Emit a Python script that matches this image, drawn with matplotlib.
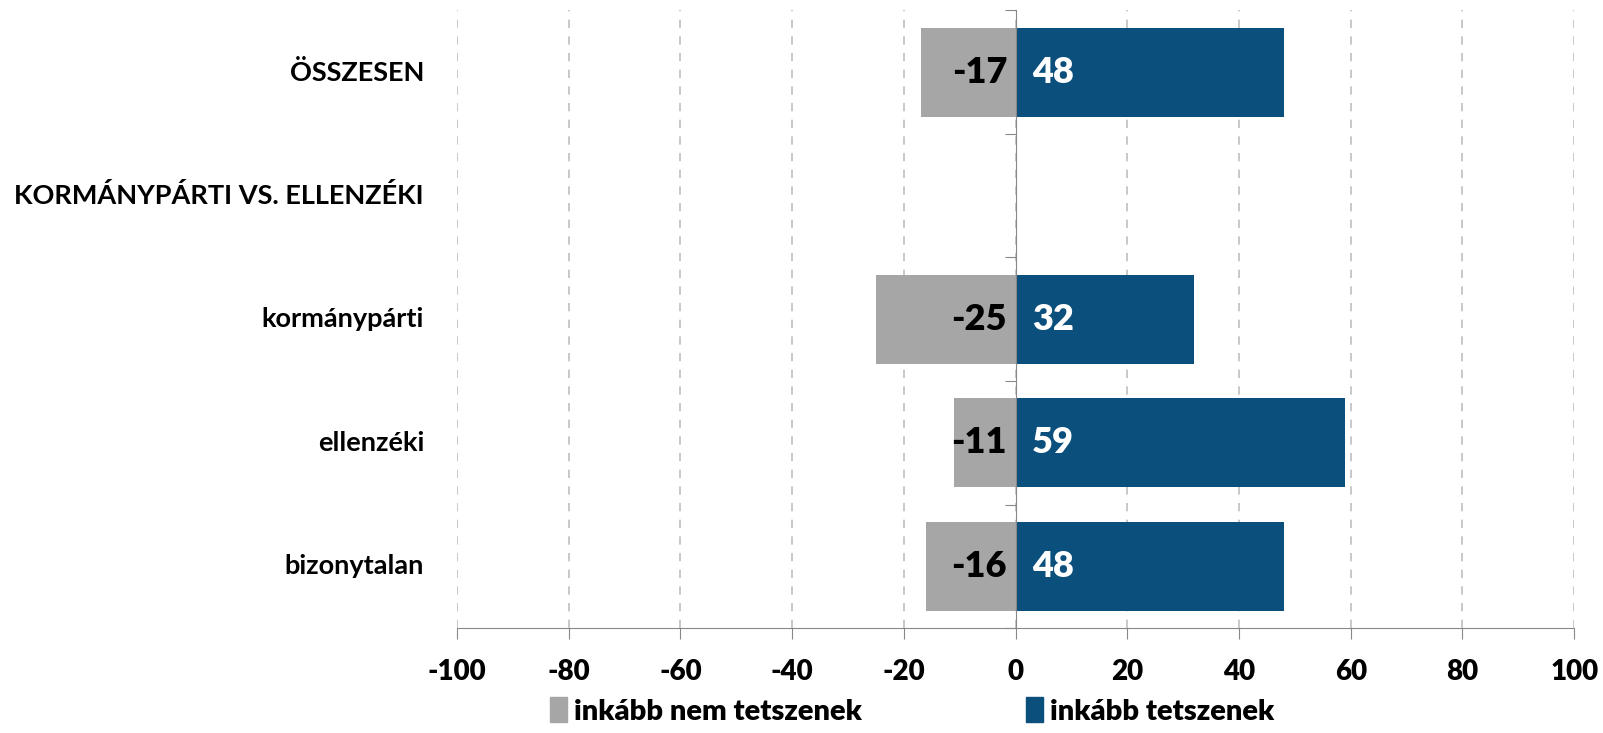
import numpy as np
import matplotlib.pyplot as plt
import matplotlib.transforms as mtransforms
from matplotlib.patches import Patch

plt.rcParams['font.family'] = ['Lato', 'DejaVu Sans']
plt.rcParams['font.weight'] = 'bold'

categories = ['ÖSSZESEN', 'KORMÁNYPÁRTI VS. ELLENZÉKI', 'kormánypárti', 'ellenzéki', 'bizonytalan']
nem_tetszenek = [-17, np.nan, -25, -11, -16]
tetszenek = [48, np.nan, 32, 59, 48]
series_names = ['inkább nem tetszenek', 'inkább tetszenek']
xticks = list(range(-100, 101, 20))

grey = '#A6A6A6'
blue = '#0B4F7C'
wt = 'heavy'

fig = plt.figure(figsize=(16.03, 7.33), dpi=100)
ax = fig.add_axes([0.285, 0.143, 0.697, 0.843])

y = np.arange(len(categories))
ax.barh(y, nem_tetszenek, height=0.72, color=grey, zorder=2)
ax.barh(y, tetszenek, height=0.72, color=blue, zorder=2)

for yi, v in zip(y, nem_tetszenek):
    if not np.isnan(v):
        ax.text(-1.5, yi, f'{v:d}', ha='right', va='center', fontsize=26,
                fontweight=wt, color='black', zorder=3)
for yi, v in zip(y, tetszenek):
    if not np.isnan(v):
        ax.text(3, yi, f'{v:d}', ha='left', va='center', fontsize=26,
                fontweight=wt, color='white', zorder=3)

ax.set_xlim(-100, 100)
ax.set_ylim(len(categories) - 0.5, -0.5)
ax.set_xticks(xticks)
ax.set_xticklabels([str(t) for t in xticks], fontsize=20, fontweight=wt)
ax.tick_params(axis='x', direction='out', length=8, color='#888888', pad=14)
ax.xaxis.grid(True, linestyle=(0, (5, 5)), color='#BFBFBF', linewidth=1.2, zorder=0)

# y axis at zero with ticks between categories
ax.spines['left'].set_position(('data', 0))
ax.spines['left'].set_color('#888888')
ax.spines['left'].set_zorder(4)
ax.set_yticks(np.arange(-0.5, len(categories), 1.0))
ax.set_yticklabels([])
ax.tick_params(axis='y', direction='out', length=8, color='#888888')
for s in ['top', 'right']:
    ax.spines[s].set_visible(False)
ax.spines['bottom'].set_color('#888888')

trans = mtransforms.blended_transform_factory(ax.transAxes, ax.transData)
for yi, c in zip(y, categories):
    ax.text(-0.0295, yi, c, transform=trans, ha='right', va='center',
            fontsize=19.5, fontweight='bold')

handles = [Patch(color=grey), Patch(color=blue)]
fig.legend(handles, series_names, loc='center', bbox_to_anchor=(0.569, 0.03),
           ncol=2, frameon=False, handlelength=0.6, handleheight=0.9,
           handletextpad=0.25, columnspacing=5.6, prop={'weight': wt, 'size': 21})

fig.savefig('out.png', dpi=100)
